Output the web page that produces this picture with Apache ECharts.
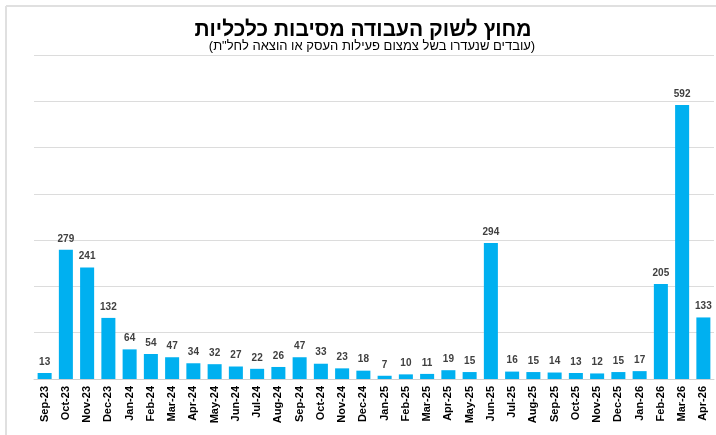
<!DOCTYPE html>
<html>
<head>
<meta charset="utf-8">
<script src="https://cdn.jsdelivr.net/npm/echarts@6/dist/echarts.min.js"></script>
<style>
  html, body { margin: 0; padding: 0; background: #fff; }
  #chart { width: 716px; height: 435px; }
</style>
</head>
<body>
<div id="chart"></div>
<script>
// Monthly counts, Sep-23 .. Apr-26
const months = ['Sep-23', 'Oct-23', 'Nov-23', 'Dec-23', 'Jan-24', 'Feb-24', 'Mar-24', 'Apr-24',
  'May-24', 'Jun-24', 'Jul-24', 'Aug-24', 'Sep-24', 'Oct-24', 'Nov-24', 'Dec-24',
  'Jan-25', 'Feb-25', 'Mar-25', 'Apr-25', 'May-25', 'Jun-25', 'Jul-25', 'Aug-25',
  'Sep-25', 'Oct-25', 'Nov-25', 'Dec-25', 'Jan-26', 'Feb-26', 'Mar-26', 'Apr-26']
const workers = [13, 279, 241, 132, 64, 54, 47, 34, 32, 27, 22, 26, 47, 33, 23, 18,
  7, 10, 11, 19, 15, 294, 16, 15, 14, 13, 12, 15, 17, 205, 592, 133]

const title = 'מחוץ לשוק העבודה מסיבות כלכליות'
const subtitle = '(עובדים שנעדרו בשל צמצום פעילות העסק או הוצאה לחל"ת)'

const chart = echarts.init(document.getElementById('chart'))
chart.setOption({
  animation: false,
  backgroundColor: '#fff',
  textStyle: { fontFamily: 'Liberation Sans, Arial, sans-serif' },
  graphic: [
    // light frame on top and left like the original screenshot
    { type: 'line', shape: { x1: 6, y1: 6, x2: 716, y2: 6 }, style: { stroke: '#e0e0e0', lineWidth: 2 } },
    { type: 'line', shape: { x1: 6, y1: 6, x2: 6, y2: 435 }, style: { stroke: '#e0e0e0', lineWidth: 2 } },
    { type: 'text', x: 363, y: 30,
      style: { text: title, font: 'bold 21px "Liberation Sans", Arial, sans-serif', fill: '#000',
        align: 'center', verticalAlign: 'middle' } },
    { type: 'text', x: 372, y: 46,
      style: { text: subtitle, font: '13px "Liberation Sans", Arial, sans-serif', fill: '#000',
        align: 'center', verticalAlign: 'middle' } },
  ],
  grid: { left: 34, right: 2, top: 55, bottom: 56 },
  xAxis: {
    type: 'category',
    data: months,
    axisTick: { show: false },
    axisLine: { lineStyle: { color: '#d0d0d0', width: 1 } },
    axisLabel: { rotate: 90, interval: 0, color: '#000', fontWeight: 'bold', fontSize: 11, margin: 7 },
  },
  yAxis: {
    type: 'value',
    min: 0, max: 700, interval: 100,
    axisLabel: { show: false },
    axisLine: { show: false },
    axisTick: { show: false },
    splitLine: { lineStyle: { color: '#dcdcdc', width: 1 } },
  },
  series: [{
    type: 'bar',
    data: workers,
    barWidth: '66%',
    itemStyle: { color: '#00b0f0' },
    label: { show: true, position: 'top', distance: 6, color: '#404040', fontWeight: 'bold', fontSize: 10 },
  }],
})
</script>
</body>
</html>
